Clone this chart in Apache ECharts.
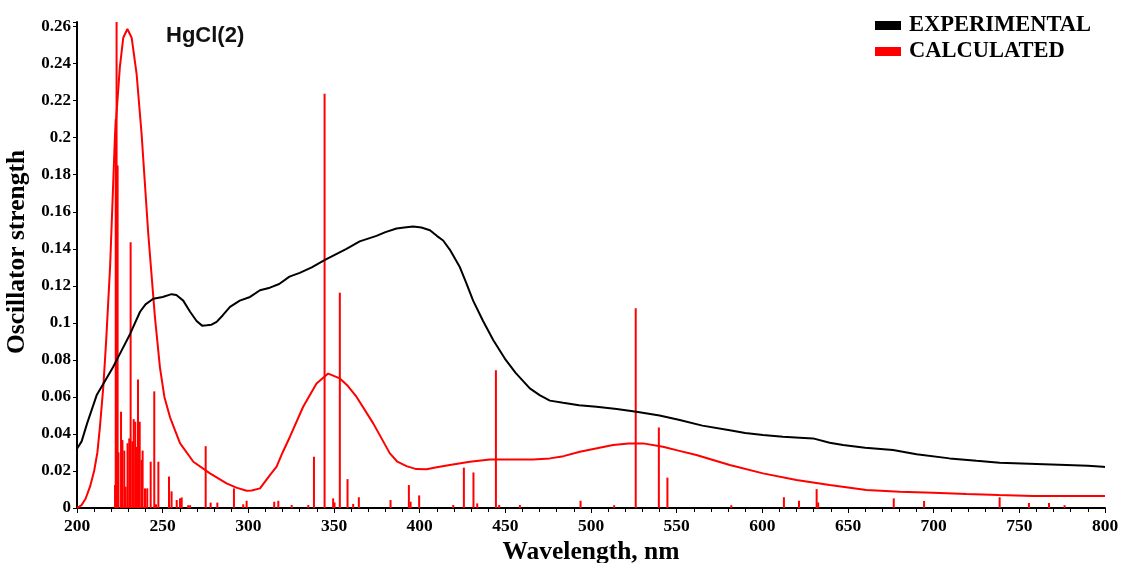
<!DOCTYPE html>
<html>
<head>
<meta charset="utf-8">
<title>HgCl(2)</title>
<script src="https://cdn.jsdelivr.net/npm/echarts@6/dist/echarts.min.js"></script>
<style>
  html, body { margin: 0; padding: 0; background: #fff; }
  #chart { width: 1121px; height: 563px; }
</style>
</head>
<body>
<div id="chart"></div>
<script>
  // experimental spectrum
  const expX = [200, 202.7, 206, 211.5, 216, 221, 226, 231, 236.8, 240, 244.5, 250, 255.2, 258, 262, 266, 269.8, 273, 275.7, 278.5,
    281.5, 285, 289.3, 295, 301, 306.8, 312.6, 318, 324, 330, 337, 344.7, 351, 357.3, 365, 374.8, 380, 386.5, 391, 396.2,
    401, 406, 410, 413.7, 418, 423.5, 427, 431.2, 437, 443, 449.7, 456, 464.3, 470, 476, 483.7, 493, 503.2, 515, 526.5,
    540, 551.8, 565, 581, 590, 600.4, 612, 621.8, 629.6, 639.3, 647.1, 660, 676.3, 690, 709.3, 725, 738.5, 760, 777.4, 790,
    798.8, 800]
  const expY = [0.032, 0.036, 0.046, 0.061, 0.068, 0.076, 0.085, 0.094, 0.106, 0.110, 0.113, 0.114, 0.1155, 0.115, 0.112, 0.106, 0.101, 0.0985, 0.0987, 0.099,
    0.1005, 0.104, 0.1086, 0.112, 0.114, 0.1176, 0.119, 0.121, 0.125, 0.127, 0.130, 0.134, 0.137, 0.140, 0.144, 0.147, 0.149, 0.151, 0.1515, 0.152,
    0.1515, 0.150, 0.147, 0.1445, 0.139, 0.130, 0.122, 0.112, 0.101, 0.0906, 0.0807, 0.073, 0.0646, 0.061, 0.058, 0.0568, 0.0555, 0.0547, 0.0535, 0.052,
    0.050, 0.0475, 0.0445, 0.042, 0.0405, 0.0394, 0.0385, 0.038, 0.0376, 0.0352, 0.034, 0.0325, 0.0313, 0.029, 0.0268, 0.0255, 0.0245, 0.0238, 0.0232, 0.0228,
    0.0223, 0.0222]

  // calculated envelope
  const calcX = [200, 202.7, 205, 207.6, 210, 211.9, 213.4, 215.4, 217, 219.3, 222.2, 225, 227, 229.4, 231.9, 234.8, 237.7, 241.6, 245.5, 248.4,
    251, 254.3, 260.1, 267.9, 277.6, 287.3, 293, 299, 302, 306.8, 312.6, 316.5, 320, 324.3, 332, 339.8, 346.6, 353.4, 358, 363.2,
    372.9, 382.6, 387, 392.3, 398, 404, 410, 417.6, 429.3, 441, 455, 466.2, 476, 484, 493.5, 512.9, 522, 530.4, 542, 551,
    561.5, 581, 600.4, 619.9, 639.3, 660.7, 680.2, 699.6, 719.1, 738, 757.8, 800]
  const calcY = [0, 0.0016, 0.005, 0.0115, 0.02, 0.03, 0.044, 0.066, 0.09, 0.130, 0.202, 0.238, 0.254, 0.2587, 0.254, 0.2344, 0.202, 0.148, 0.103, 0.076,
    0.060, 0.049, 0.035, 0.025, 0.0187, 0.0133, 0.011, 0.0093, 0.0095, 0.0106, 0.0178, 0.0223, 0.030, 0.0385, 0.0547, 0.0672, 0.0726, 0.070, 0.066, 0.060,
    0.0457, 0.0295, 0.025, 0.0226, 0.021, 0.0209, 0.022, 0.0232, 0.025, 0.0262, 0.0262, 0.0262, 0.0268, 0.028, 0.0304, 0.034, 0.0348, 0.0349, 0.0331, 0.031,
    0.0286, 0.0232, 0.0187, 0.0151, 0.0124, 0.0097, 0.0088, 0.0083, 0.0076, 0.007, 0.0065, 0.0065]

  // calculated transitions (sticks)
  const stickX = [222.2, 222.6, 223.1, 223.7, 224.2, 225.7, 226.5, 227.6, 228.4, 229.5, 230.5, 231.3, 232.3, 233.1, 234, 235, 235.6, 236.6, 237.7, 238.3,
    239.7, 241, 243, 245.1, 246.1, 247.5, 253.7, 255.2, 258.2, 260.1, 261.1, 264.9, 266, 275.1, 278, 281.9, 291.6, 297, 299, 315.1,
    317.5, 325.3, 335, 338.3, 344.5, 349.5, 350.3, 353.4, 357.9, 361.2, 364.5, 383, 393.7, 394.7, 399.7, 419.6, 425.8, 431.4, 433.6, 444.5,
    446.4, 458.5, 493.9, 513.5, 526.1, 539.6, 544.6, 581.9, 612.6, 621.4, 631.7, 632.6, 676.7, 694.4, 738.5, 755.6, 767.3, 776.4]
  const stickY = [0.0124, 0.21, 0.27, 0.185, 0.03, 0.052, 0.0367, 0.031, 0.0115, 0.035, 0.0376, 0.1436, 0.036, 0.048, 0.0466, 0.033, 0.0694, 0.0466, 0.026, 0.031,
    0.0106, 0.0106, 0.025, 0.063, 0.002, 0.025, 0.017, 0.009, 0.0043, 0.0052, 0.0057, 0.0015, 0.0015, 0.0334, 0.0029, 0.0029, 0.0106, 0.002, 0.0039, 0.0034,
    0.0039, 0.0016, 0.0016, 0.0277, 0.2238, 0.0052, 0.003, 0.1163, 0.0156, 0.0022, 0.0058, 0.0043, 0.0124, 0.0034, 0.0068, 0.0016, 0.0218, 0.0192, 0.0025, 0.0744,
    0.0016, 0.0016, 0.0039, 0.0015, 0.1079, 0.0435, 0.0164, 0.0015, 0.0058, 0.0039, 0.0102, 0.003, 0.0052, 0.0038, 0.0058, 0.0027, 0.0027, 0.0015]

  const serif = "'Liberation Serif', 'Times New Roman', serif"
  const zip = (xs, ys) => xs.map((x, i) => [x, ys[i]])

  const chart = echarts.init(document.getElementById('chart'))
  chart.setOption({
    animation: false,
    backgroundColor: '#fff',
    grid: { left: 77, right: 16, top: 22, bottom: 55, outerBoundsMode: 'none', containLabel: false },
    title: {
      text: 'HgCl(2)',
      left: 161, top: 20,
      textStyle: { fontFamily: "'Liberation Sans', Arial, sans-serif", fontWeight: 'bold', fontSize: 22, color: '#111' },
    },
    legend: {
      orient: 'vertical',
      left: 870, top: 9,
      itemWidth: 26, itemHeight: 9, itemGap: 3,
      icon: 'rect',
      data: ['EXPERIMENTAL', 'CALCULATED'],
      textStyle: { fontFamily: serif, fontWeight: 'bold', fontSize: 22.5, color: '#000', padding: [0, 0, 0, 3] },
    },
    xAxis: {
      type: 'value',
      min: 200, max: 800, interval: 50,
      name: 'Wavelength, nm',
      nameLocation: 'middle', nameGap: 25,
      nameTextStyle: { fontFamily: serif, fontWeight: 'bold', fontSize: 25.5, color: '#000' },
      axisLine: { lineStyle: { color: '#000', width: 2 } },
      axisTick: { length: 5, lineStyle: { color: '#000' } },
      minorTick: { show: true, splitNumber: 5, length: 4, lineStyle: { color: '#000' } },
      axisLabel: { fontFamily: serif, fontWeight: 'bold', fontSize: 17.5, color: '#000', margin: 9 },
      splitLine: { show: false },
    },
    yAxis: {
      type: 'value',
      min: 0, max: 0.2625, interval: 0.02,
      name: 'Oscillator strength',
      nameLocation: 'middle', nameGap: 41,
      nameTextStyle: { fontFamily: serif, fontWeight: 'bold', fontSize: 25.5, color: '#000', padding: [0, 0, 0, 26] },
      axisLine: { show: true, lineStyle: { color: '#000', width: 2 } },
      axisTick: { show: true, length: 4, lineStyle: { color: '#000' } },
      axisLabel: {
        fontFamily: serif, fontWeight: 'bold', fontSize: 17, color: '#000', margin: 6,
        formatter: v => (Math.abs(v / 0.02 - Math.round(v / 0.02)) < 1e-6 ? String(+v.toFixed(2)) : ''),
      },
      splitLine: { show: false },
    },
    series: [
      {
        name: 'CALCULATED sticks',
        type: 'bar',
        barWidth: 2,
        itemStyle: { color: '#ff0000' },
        data: zip(stickX, stickY),
        z: 2,
      },
      {
        name: 'CALCULATED',
        type: 'line',
        showSymbol: false,
        lineStyle: { color: '#ff0000', width: 2 },
        itemStyle: { color: '#ff0000' },
        data: zip(calcX, calcY),
        z: 3,
      },
      {
        name: 'EXPERIMENTAL',
        type: 'line',
        showSymbol: false,
        lineStyle: { color: '#000', width: 2 },
        itemStyle: { color: '#000' },
        data: zip(expX, expY),
        z: 4,
      },
    ],
  })
</script>
</body>
</html>
